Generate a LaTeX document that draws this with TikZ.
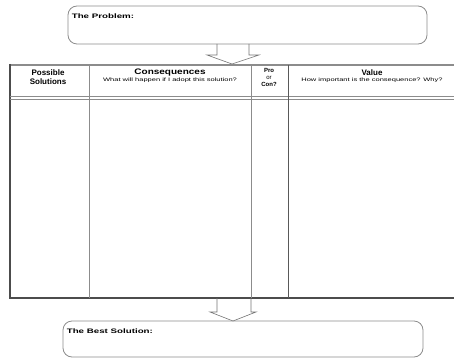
\documentclass[tikz,border=0pt]{standalone}
\usepackage{fontspec}
\setmainfont{Liberation Sans}
\usepackage{graphicx}
\usetikzlibrary{calc}

\tikzset{
  roundbox/.style={draw=black!45, line width=0.8pt, rounded corners=9pt, inner sep=0pt},
  boxtext/.style={anchor=north west, font=\fontsize{6.5}{7}\selectfont\bfseries, inner sep=1pt},
  headtext/.style={align=center, font=\fontsize{8}{8.5}\selectfont\bfseries, inner sep=0pt},
  subtext/.style={font=\fontsize{5}{5}\selectfont, inner sep=0pt},
  blockarrow/.style={draw=black!55, line width=0.6pt, line join=miter},
  colline/.style={draw=black!45, line width=0.7pt},
}
\newcommand{\wide}[2][1.5]{\scalebox{#1}[1]{#2}}

\begin{document}
\begin{tikzpicture}[x=1pt, y=-1pt]
		%%%%% START %%%%%
		\useasboundingbox (0,0) rectangle (454,358);
		\clip (0,0) rectangle (454,358);
		
		% the problem
		\node[roundbox, minimum width=359pt, minimum height=38pt] (problem) at (247.5,25) {};
		\node[boxtext] (problemtext) at ($(problem.north west)+(3,7)$) {\wide{The Problem:}};
		
		\draw[blockarrow] (217,44) -- (217,55) -- (207,55) -- (232,64) -- (259,55) -- (249,55) -- (249,44);
		
		% table
		\draw[line width=1.6pt, draw=black!45] (10,65) -- (460,65);
		\draw[line width=1.8pt, draw=black!70] (10,64) -- (10,298) -- (460,298);
		\draw[colline] (10,96) -- (460,96);
		\draw[colline] (10,99) -- (460,99);
		\draw[colline] (89,65) -- (89,298);
		\draw[colline] (251,65) -- (251,298);
		\draw[colline, draw=black!65] (288,65) -- (288,298);
		
		\node[headtext] (possible) at (48,77) {Possible\\Solutions};
		\node[headtext] (conseq) at (170,73) {\wide[1.25]{Consequences}};
		\node[subtext] (conseqsub) at (170,80) {\wide{What will happen if I adopt this solution?}};
		\node[headtext, font=\fontsize{6}{7}\selectfont\bfseries] (procon) at (269,77) {Pro\\{\mdseries or}\\Con?};
		\node[headtext] (value) at (372,73) {Value};
		\node[subtext] (valuesub) at (372,80) {\wide{How important is the consequence? Why?}};
		
		\draw[blockarrow] (217,298) -- (217,312) -- (210,312) -- (233,321) -- (256,312) -- (251,312) -- (251,298);
		
		% the best solution
		\node[roundbox, minimum width=360pt, minimum height=36pt] (best) at (243,339) {};
		\node[boxtext] (besttext) at ($(best.north west)+(3,7)$) {\wide{The Best Solution:}};
		
		%%%%% END %%%%%
	\end{tikzpicture}
\end{document}
